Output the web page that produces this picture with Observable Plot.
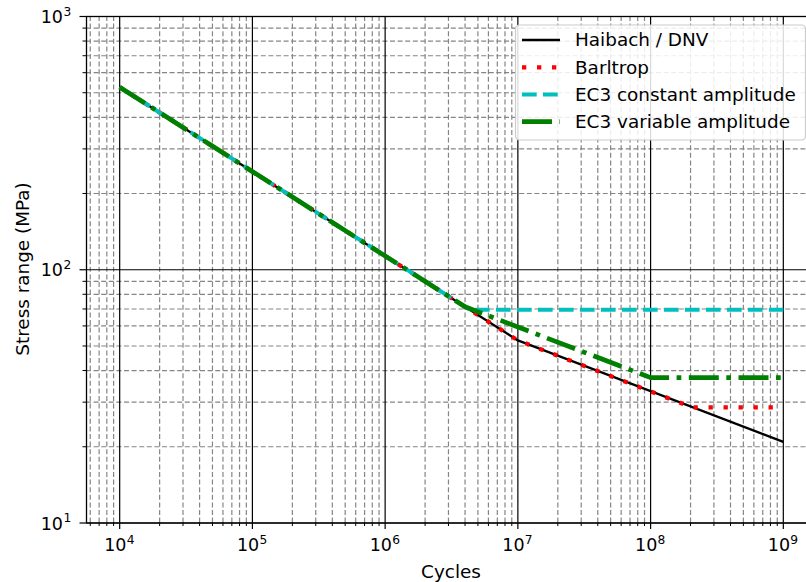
<!DOCTYPE html>
<html>
<head>
<meta charset="utf-8">
<script src="https://cdn.jsdelivr.net/npm/d3@7"></script>
<script src="https://cdn.jsdelivr.net/npm/@observablehq/plot@0.6"></script>
<style>
  html, body { margin: 0; padding: 0; background: #fff; }
  #chart svg { display: block; font-family: "DejaVu Sans", sans-serif; }
</style>
</head>
<body>
<div id="chart"></div>
<script>
// ---- data ----
const haibachN  = [1e4, 1e7, 1e9];
const haibachS  = [526, 52.6, 20.9];
const barltropN = [1e4, 1e7, 2.06e8, 1e9];
const barltropS = [526, 52.6, 28.6, 28.6];
const ec3cN     = [1e4, 4.35e6, 1e9];
const ec3cS     = [526, 69.5, 69.5];
const ec3vN     = [1e4, 4.0e6, 1e8, 1e9];
const ec3vS     = [526, 71.4, 37.5, 37.5];

const seriesNames = ["Haibach / DNV", "Barltrop", "EC3 constant amplitude", "EC3 variable amplitude"];

// tick values
const majorX = [1e4, 1e5, 1e6, 1e7, 1e8, 1e9];
const expX   = ["4", "5", "6", "7", "8", "9"];
const majorY = [10, 100, 1000];
const expY   = ["1", "2", "3"];
const minorMult = [2, 3, 4, 5, 6, 7, 8, 9];
const minorX = [6e3, 7e3, 8e3, 9e3].concat(...[1e4, 1e5, 1e6, 1e7, 1e8].map(d => minorMult.map(m => m * d)));
const minorY = [].concat(...[10, 100].map(d => minorMult.map(m => m * d)));

const toRows = (N, S) => N.map((n, i) => ({n, s: S[i]}));
const haibach = toRows(haibachN, haibachS);
const barltrop = toRows(barltropN, barltropS);
const ec3c = toRows(ec3cN, ec3cS);
const ec3v = toRows(ec3vN, ec3vS);

const styles = [
  {stroke: "#000000", strokeWidth: 2.3, dash: null},
  {stroke: "#ff0000", strokeWidth: 4.3, dash: "4.3,10.7"},
  {stroke: "#00bfbf", strokeWidth: 4, dash: "14.7,6.3"},
  {stroke: "#008000", strokeWidth: 4.7, dash: "30,7.5,4.7,7.5"}
];
const datasets = [haibach, barltrop, ec3c, ec3v];

const W = 806, H = 582;
const FS = 17.5, FSsup = 12.25, FSL = 18.4;

const plot = Plot.plot({
  width: W, height: H,
  marginLeft: 86, marginRight: -10, marginTop: 16, marginBottom: 59.5,
  style: {fontFamily: "DejaVu Sans, sans-serif", fontSize: FS + "px", background: "#fff"},
  x: {type: "log", domain: [Math.pow(10, 3.75), Math.pow(10, 9.25)], axis: null},
  y: {type: "log", domain: [10, 1000], axis: null},
  marks: [
    // minor grid
    Plot.ruleX(minorX, {x: d => d, stroke: "#858585", strokeWidth: 1.2, strokeDasharray: "5,2.6"}),
    Plot.ruleY(minorY, {y: d => d, stroke: "#858585", strokeWidth: 1.2, strokeDasharray: "5,2.6"}),
    // major grid
    Plot.ruleX(majorX, {x: d => d, stroke: "#000", strokeWidth: 1.2}),
    Plot.ruleY(majorY, {y: d => d, stroke: "#000", strokeWidth: 1.2}),
    // tick marks
    Plot.axisX(majorX, {tickSize: 6.5, tickFormat: () => "", label: null, strokeWidth: 1.2, stroke: "#000"}),
    Plot.axisX(minorX, {tickSize: 3.5, tickFormat: () => "", label: null, strokeWidth: 1, stroke: "#000"}),
    Plot.axisY(majorY, {tickSize: 6.5, tickFormat: () => "", label: null, strokeWidth: 1.2, stroke: "#000"}),
    Plot.axisY(minorY, {tickSize: 3.5, tickFormat: () => "", label: null, strokeWidth: 1, stroke: "#000"}),
    // series
    ...datasets.map((data, i) => Plot.line(data, {
      x: "n", y: "s", stroke: styles[i].stroke, strokeWidth: styles[i].strokeWidth,
      strokeDasharray: styles[i].dash, strokeLinecap: "butt", strokeLinejoin: "miter"
    })),
    // frame
    Plot.frame({stroke: "#000", strokeWidth: 1.3}),
    // tick labels x
    Plot.text(majorX, {x: d => d, frameAnchor: "bottom", text: () => "10", textAnchor: "start",
      lineAnchor: "bottom", dx: -15.5, dy: 28, fontSize: FS, fill: "#000"}),
    Plot.text(majorX, {x: d => d, frameAnchor: "bottom", text: (d, i) => expX[i], textAnchor: "start",
      lineAnchor: "bottom", dx: 7, dy: 20.5, fontSize: FSsup, fill: "#000"}),
    // tick labels y
    Plot.text(majorY, {y: d => d, frameAnchor: "left", text: () => "10", textAnchor: "end",
      lineAnchor: "bottom", dx: -23.5, dy: 6.5, fontSize: FS, fill: "#000"}),
    Plot.text(majorY, {y: d => d, frameAnchor: "left", text: (d, i) => expY[i], textAnchor: "start",
      lineAnchor: "bottom", dx: -23, dy: -1, fontSize: FSsup, fill: "#000"})
  ]
});

document.getElementById("chart").appendChild(plot);

// axis titles and legend (decorations)
const svg = d3.select(plot);
svg.append("text").attr("x", 451).attr("y", 578).attr("text-anchor", "middle")
  .attr("font-size", FSL).attr("fill", "#000").text("Cycles");
svg.append("text").attr("transform", "translate(28.5,269) rotate(-90)").attr("text-anchor", "middle")
  .attr("font-size", FSL).attr("fill", "#000").text("Stress range (MPa)");

const lg = svg.append("g");
lg.append("rect").attr("x", 515.5).attr("y", 25).attr("width", 290).attr("height", 115)
  .attr("rx", 4).attr("fill", "#fff").attr("fill-opacity", 0.85)
  .attr("stroke", "#cccccc").attr("stroke-width", 1.2);
const rowY = [40, 67.3, 94.5, 121.7];
seriesNames.forEach((name, i) => {
  const ln = lg.append("line").attr("x1", 522).attr("x2", 560).attr("y1", rowY[i]).attr("y2", rowY[i])
    .attr("stroke", styles[i].stroke).attr("stroke-width", styles[i].strokeWidth);
  if (styles[i].dash) ln.attr("stroke-dasharray", styles[i].dash);
  lg.append("text").attr("x", 575).attr("y", rowY[i]).attr("dy", "0.35em")
    .attr("text-anchor", "start")
    .attr("font-size", FSL).attr("fill", "#000").text(name);
});
</script>
</body>
</html>
